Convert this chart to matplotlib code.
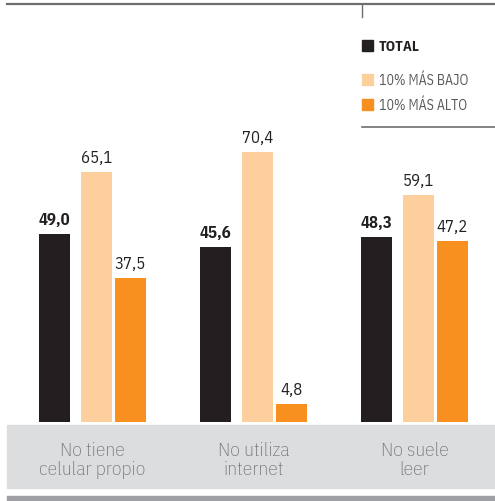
import matplotlib
matplotlib.use("Agg")
import matplotlib.pyplot as plt
from matplotlib.patches import Rectangle
from matplotlib.lines import Line2D
import numpy as np

plt.rcParams['font.family'] = ['IBM Plex Sans Condensed', 'DejaVu Sans']

# data
categories = ["No tiene\ncelular propio", "No utiliza\ninternet", "No suele\nleer"]
series_names = ["TOTAL", "10% MÁS BAJO", "10% MÁS ALTO"]
total = [49.0, 45.6, 48.3]
bajo = [65.1, 70.4, 59.1]
alto = [37.5, 4.8, 47.2]

colors = ["#231f20", "#fdcf9d", "#f7901e"]
offsets = [-0.236, 0.025, 0.236]
bar_w = 0.193

W, H = 495, 502
fig = plt.figure(figsize=(W / 100, H / 100), dpi=100)

def fx(px):
    return px / W

def fy(py):
    return 1 - py / H

# gray band behind category labels
fig.patches.append(Rectangle((fx(7), fy(489)), fx(495) - fx(7), fy(426) - fy(489),
                             transform=fig.transFigure, color="#dcdddf", zorder=0))
# bottom darker band
fig.patches.append(Rectangle((fx(7), 0), fx(495) - fx(7), fy(497),
                             transform=fig.transFigure, color="#9d9fa2", zorder=0))
# top rule and small tick
fig.lines.append(Line2D([fx(7), 1], [fy(4.5), fy(4.5)], transform=fig.transFigure,
                        color="#6d6e71", lw=1.6))
fig.lines.append(Line2D([fx(362), fx(362)], [fy(4.5), fy(18)], transform=fig.transFigure,
                        color="#6d6e71", lw=1.0))
# rule under legend
fig.lines.append(Line2D([fx(362), 1], [fy(127.5), fy(127.5)], transform=fig.transFigure,
                        color="#6d6e71", lw=1.2))

# axes: baseline at y=423 px, 3.84 px per unit
ax = fig.add_axes([0, fy(423), 1, 423 / H])
ax.set_xlim(-92.5 / 161, (495 - 92.5) / 161)
ax.set_ylim(0, 423 / 3.84)
ax.axis("off")

x = np.arange(len(categories))
for vals, col, off, name in zip([total, bajo, alto], colors, offsets, series_names):
    ax.bar(x + off, vals, width=bar_w, color=col, linewidth=0)
    for xi, v in zip(x, vals):
        bold = name == "TOTAL"
        ax.annotate(f"{v:.1f}".replace(".", ","), (xi + off, v), xytext=(0, 10),
                    textcoords="offset pixels", ha="center", va="baseline",
                    fontsize=12, color="#231f20",
                    fontweight="bold" if bold else "normal")

# category labels, centred on the groups
for xi, cat in zip(x, categories):
    px = 92.5 + 161 * xi
    fig.text(fx(px), fy(475), cat, ha="center", va="baseline", fontsize=14,
             color="#6d6e71", fontweight="light", linespacing=1.05, zorder=5)

# legend
leg_y = [46, 80, 105.5]
for yy, col, name in zip(leg_y, colors, series_names):
    fig.patches.append(Rectangle((fx(362), fy(yy + 5.5)), fx(11), 11 / H,
                                 transform=fig.transFigure, color=col))
    bold = name == "TOTAL"
    fig.text(fx(379), fy(yy + 5), name, ha="left", va="baseline",
             fontsize=10.5 if bold else 10,
             color="#231f20" if bold else "#58595b",
             fontweight="bold" if bold else "normal")

fig.savefig("out.png", dpi=100)
